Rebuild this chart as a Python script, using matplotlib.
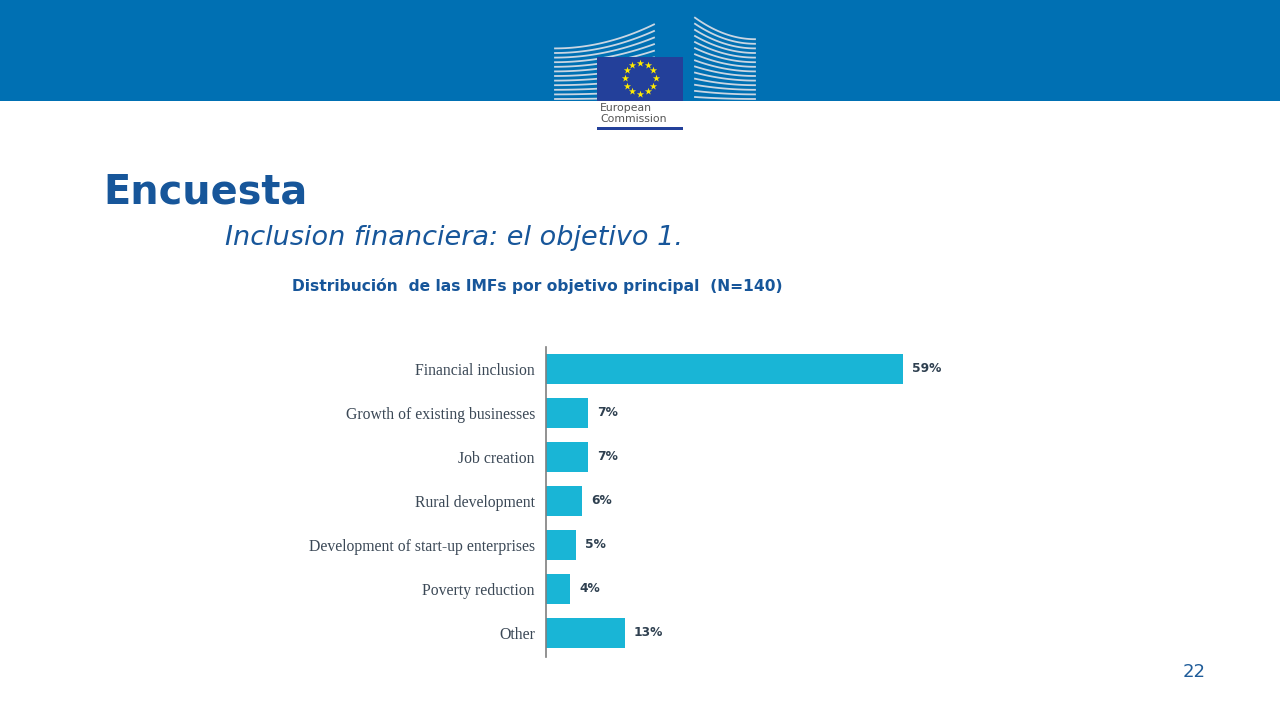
import numpy as np
import matplotlib.pyplot as plt
from matplotlib.patches import Rectangle

# data
categories = ['Financial inclusion', 'Growth of existing businesses', 'Job creation',
              'Rural development', 'Development of start-up enterprises',
              'Poverty reduction', 'Other']
shares = [59, 7, 7, 6, 5, 4, 13]
value_labels = ['59%', '7%', '7%', '6%', '5%', '4%', '13%']

W, H = 1280, 720
fig = plt.figure(figsize=(12.8, 7.2), dpi=100)
fig.patch.set_facecolor('white')

# background layer in pixel coordinates
bg = fig.add_axes([0, 0, 1, 1])
bg.set_xlim(0, W)
bg.set_ylim(H, 0)
bg.axis('off')

bg.add_patch(Rectangle((0, 0), W, 101, color='#0070B3', lw=0))

# logo: building stripes
for i in range(12):
    y0 = 99 - i * 4.6
    xs = np.linspace(555, 654, 30)
    ys = y0 - (xs - 555) ** 2 / 99 ** 2 * (i * 2.0 + 2)
    bg.plot(xs, ys, color='#c9d6e3', lw=1.3)
for i in range(14):
    y0 = 99 - i * 4.6
    xs = np.linspace(695, 755, 30)
    ys = y0 - (755 - xs) ** 2 / 60 ** 2 * (i * 1.5 + 2)
    bg.plot(xs, ys, color='#c9d6e3', lw=1.3)
bg.add_patch(Rectangle((597, 57), 86, 44, color='#23409A', lw=0, zorder=3))
ang = np.linspace(0, 2 * np.pi, 13)[:-1]
bg.scatter(640 + 15.5 * np.cos(ang), 78 + 15.5 * np.sin(ang), marker='*', s=30,
           color='#FFEB00', lw=0, zorder=4)
bg.text(600, 108, 'European', fontsize=7.8, color='#555555', va='center')
bg.text(600, 119, 'Commission', fontsize=7.8, color='#555555', va='center')
bg.add_patch(Rectangle((597, 127), 86, 3, color='#23409A', lw=0))

# titles
blue = '#17569A'
bg.text(103, 192, 'Encuesta', fontsize=28.7, fontweight='bold', color=blue,
        va='center', ha='left')
bg.text(225, 238, 'Inclusion financiera: el objetivo 1.', fontsize=19.5,
        style='italic', color=blue, va='center', ha='left')
bg.text(292, 286, 'Distribución  de las IMFs por objetivo principal  (N=140)',
        fontsize=11.2, fontweight='bold', color=blue, va='center', ha='left')
bg.text(1194, 672, '22', fontsize=13, color='#1F5C99', va='center', ha='center')

# chart
ax = fig.add_axes([546 / W, 1 - 657 / H, 454 / W, 310 / H])
ypos = np.arange(len(categories))
ax.barh(ypos, shares, height=0.68, color='#19B5D6')
ax.set_xlim(0, 454 / 6.05)
ax.set_ylim(6.55, -0.5)
ax.set_yticks(ypos)
ax.set_yticklabels(categories, fontsize=11.3, color='#3b4856', family='Liberation Serif')
ax.tick_params(axis='y', length=0, pad=8)
ax.set_xticks([])
for s in ['top', 'right', 'bottom']:
    ax.spines[s].set_visible(False)
ax.spines['left'].set_color('#7f7f7f')
ax.spines['left'].set_linewidth(1.2)
ax.set_facecolor('none')
for y, v, t in zip(ypos, shares, value_labels):
    ax.text(v + 1.5, y, t, va='center', ha='left', fontsize=8.8, fontweight='bold',
            color='#2f4050')

fig.savefig('out.png', dpi=100)
